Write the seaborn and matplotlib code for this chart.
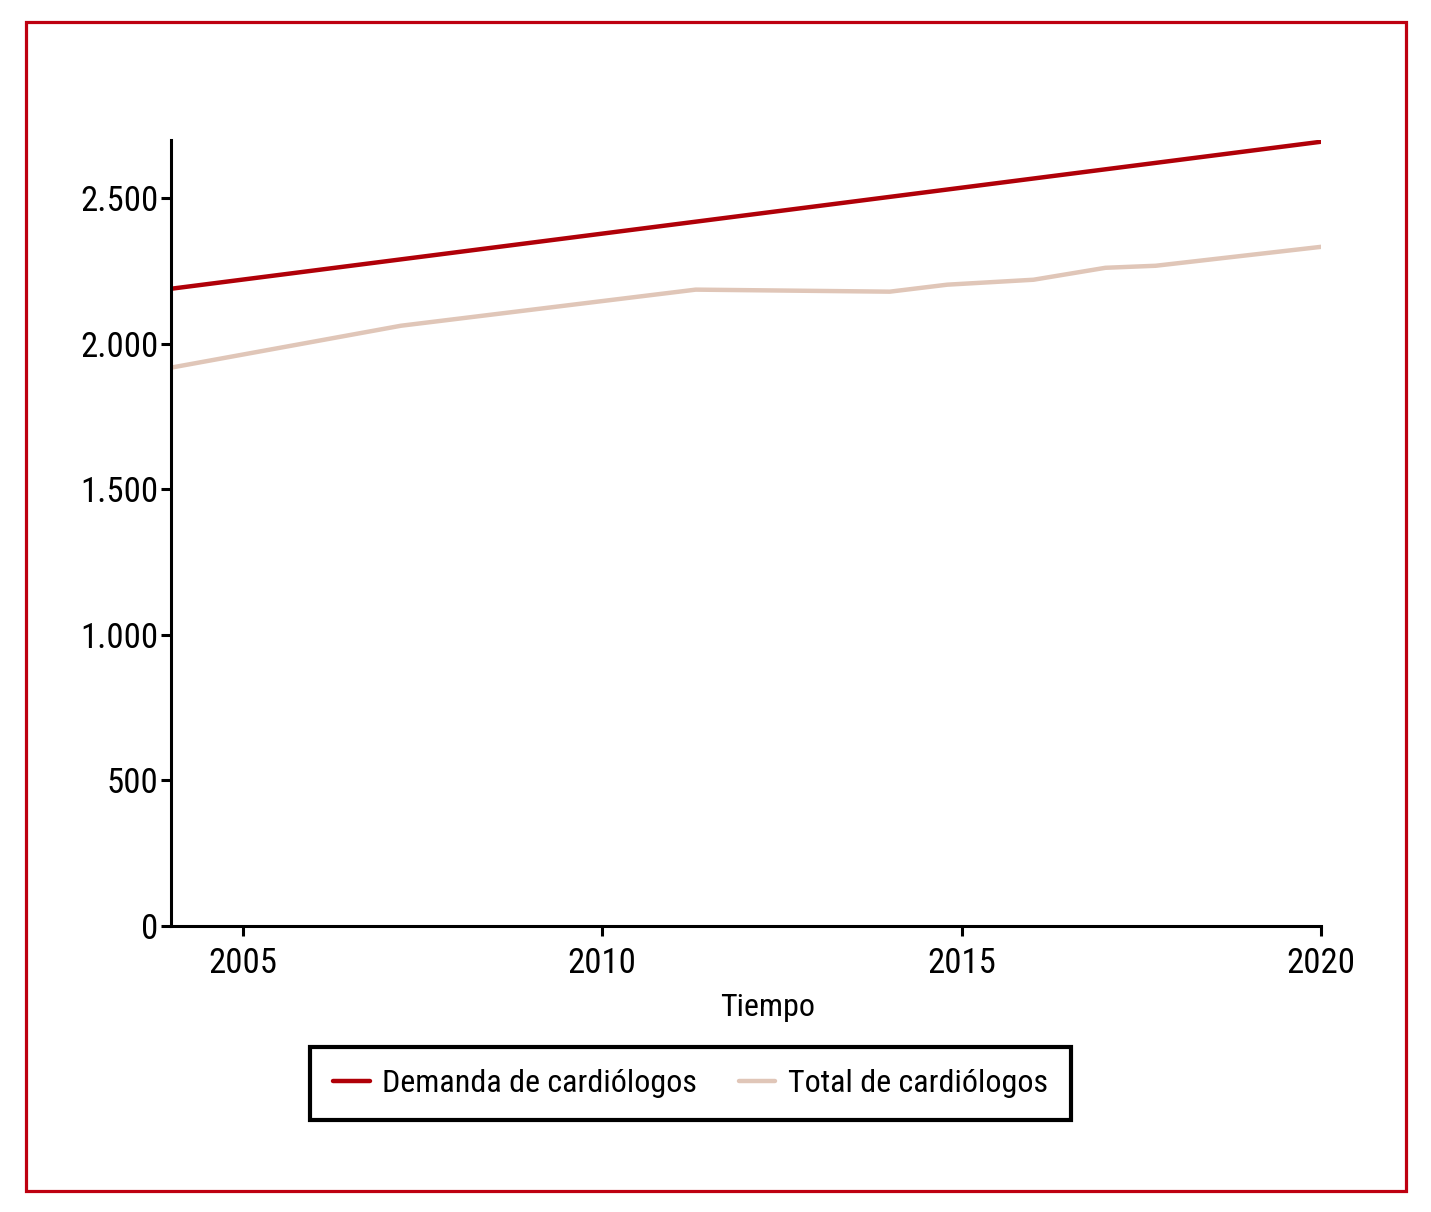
import matplotlib
matplotlib.use("Agg")
import matplotlib.pyplot as plt
import seaborn as sns
import pandas as pd
from matplotlib.patches import Rectangle
from matplotlib.ticker import FuncFormatter
from matplotlib import font_manager

# Data
demanda_years = [2004.0, 2020.0]
demanda_values = [2189, 2694]
total_years = [2004.0, 2007.2, 2011.3, 2014.0, 2014.8, 2016.0, 2017.0, 2017.7, 2020.0]
total_values = [1918, 2062, 2186, 2179, 2203, 2220, 2261, 2268, 2333]
series_names = ["Demanda de cardiólogos", "Total de cardiólogos"]
x_ticks = [2005, 2010, 2015, 2020]
y_ticks = [0, 500, 1000, 1500, 2000, 2500]

sns.set_theme(style="white")

names = {f.name for f in font_manager.fontManager.ttflist}
fam = [n for n in ["Liberation Sans Narrow", "Roboto Condensed", "Roboto"] if n in names]
plt.rcParams['font.family'] = fam + ['DejaVu Sans']
plt.rcParams['font.stretch'] = 'condensed'

df = pd.concat([
    pd.DataFrame({"Tiempo": demanda_years, "valor": demanda_values, "serie": series_names[0]}),
    pd.DataFrame({"Tiempo": total_years, "valor": total_values, "serie": series_names[1]}),
])

W, H = 1431, 1212
fig = plt.figure(figsize=(W / 100, H / 100), dpi=100)
fig.patch.set_facecolor("white")
ax = fig.add_axes([171 / W, 1 - 926 / H, 1150 / W, 786 / H])

palette = {series_names[0]: "#B00008", series_names[1]: "#E0C6B8"}
sns.lineplot(data=df, x="Tiempo", y="valor", hue="serie", palette=palette,
             linewidth=3.2, ax=ax, legend=True)

ax.set_xlim(2004, 2020)
ax.set_ylim(0, 2700)
ax.set_xticks(x_ticks)
ax.set_yticks(y_ticks)
ax.yaxis.set_major_formatter(FuncFormatter(lambda v, p: f"{int(v):,}".replace(",", ".")))
for s in ["top", "right"]:
    ax.spines[s].set_visible(False)
for s in ["left", "bottom"]:
    ax.spines[s].set_color("black")
    ax.spines[s].set_linewidth(2.2)
ax.tick_params(axis="both", which="major", direction="out", length=7, width=2.2,
               color="black", labelsize=25, labelcolor="black",
               left=True, bottom=True)
ax.tick_params(axis="y", pad=2)
ax.tick_params(axis="x", pad=8)
ax.set_ylabel("")
ax.set_xlabel("Tiempo", fontsize=23, color="black")
ax.xaxis.set_label_coords((768 - 171) / 1150, -0.085)
ax.grid(False)

handles, labels = ax.get_legend_handles_labels()
ax.get_legend().remove()
leg = fig.legend(handles, labels, loc="center", ncol=2,
                 bbox_to_anchor=(690.5 / W, 1 - 1083.5 / H),
                 fontsize=23, frameon=True, fancybox=False, framealpha=1,
                 edgecolor="black", labelcolor="black", handlelength=1.15,
                 columnspacing=1.3, borderpad=0.7, handletextpad=0.4)
leg.get_frame().set_linewidth(3)
for line in leg.get_lines():
    line.set_linewidth(3.2)

# red outer frame
fig.patches.append(Rectangle((26 / W, 1 - 1191 / H), (1406 - 26) / W, (1191 - 22) / H,
                             transform=fig.transFigure, fill=False,
                             edgecolor="#BE0010", linewidth=2.3))

fig.savefig("out.png", dpi=100, facecolor="white")
